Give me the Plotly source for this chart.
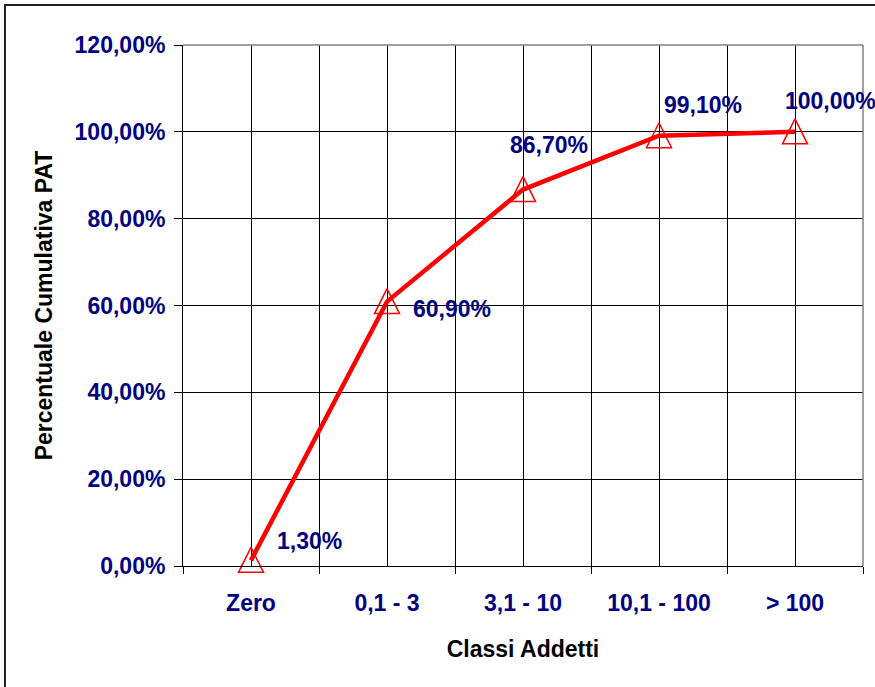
import plotly.graph_objects as go

# ---- data ----
categories = ["Zero", "0,1 - 3", "3,1 - 10", "10,1 - 100", "> 100"]
cumulative_pct = [0.013, 0.609, 0.867, 0.991, 1.000]
y_ticks = [0.0, 0.2, 0.4, 0.6, 0.8, 1.0, 1.2]

# ---- label placement (pixel offsets from each point) ----
label_dx = [24, 24, -15, 3, -12]
label_dy = [19, -7, 45, 31, 31]

NAVY = "#000080"
FONT = "Liberation Sans, Arial, sans-serif"
FS = 23

n = len(categories)
xpos = list(range(n))
labels = [f"{v*100:.2f}%".replace(".", ",") for v in cumulative_pct]

fig = go.Figure()

# markers (drawn below the line)
fig.add_trace(go.Scatter(
    x=xpos, y=cumulative_pct, mode="markers",
    marker=dict(symbol="arrow-down-open", angle=180, standoff=13, size=25,
                color="red", line=dict(color="red", width=1.5)),
    cliponaxis=False, showlegend=False, hoverinfo="skip",
))
# line
fig.add_trace(go.Scatter(
    x=xpos, y=cumulative_pct, mode="lines",
    line=dict(color="red", width=4.5),
    cliponaxis=False, showlegend=False,
))

for i, (v, t) in enumerate(zip(cumulative_pct, labels)):
    fig.add_annotation(
        x=xpos[i], y=v, text=t, showarrow=False,
        xanchor="left", yanchor="middle",
        xshift=label_dx[i], yshift=label_dy[i],
        font=dict(family=FONT, size=FS, color=NAVY, weight="bold"),
    )

fig.update_layout(
    width=875, height=687,
    margin=dict(l=183, r=12, t=45, b=121),
    paper_bgcolor="white", plot_bgcolor="white",
    separators=",.",
    showlegend=False,
    xaxis=dict(
        range=[-0.5, n - 0.5],
        tickmode="array", tickvals=xpos, ticktext=categories,
        ticks="", showgrid=True, gridcolor="black", gridwidth=1,
        showline=True, linecolor="black", linewidth=1,
        zeroline=False,
        minor=dict(tickmode="array", tickvals=[i - 0.5 for i in range(n + 1)],
                   ticks="outside", ticklen=7, tickcolor="black", tickwidth=1,
                   showgrid=True, gridcolor="black", gridwidth=1),
        tickfont=dict(family=FONT, size=FS, color=NAVY, weight="bold"),
        ticklabelstandoff=16,
        title=dict(text="Classi Addetti", standoff=26,
                   font=dict(family=FONT, size=FS, color="black", weight="bold")),
        fixedrange=True,
    ),
    yaxis=dict(
        range=[0, 1.2], tickmode="array", tickvals=y_ticks,
        tickformat=".2%",
        ticks="outside", ticklen=8, tickcolor="black", tickwidth=1,
        showgrid=True, gridcolor="black", gridwidth=1,
        showline=True, linecolor="black", linewidth=1,
        zeroline=False,
        tickfont=dict(family=FONT, size=FS, color=NAVY, weight="bold"),
        ticklabelstandoff=4,
        title=dict(text="Percentuale Cumulativa PAT", standoff=15,
                   font=dict(family=FONT, size=FS, color="black", weight="bold")),
        fixedrange=True,
    ),
    shapes=[
        # gray plot-area border (top and right)
        dict(type="line", xref="paper", yref="paper", x0=0, x1=1, y0=1, y1=1,
             line=dict(color="#808080", width=1.5), layer="above"),
        dict(type="line", xref="paper", yref="paper", x0=1, x1=1, y0=0, y1=1,
             line=dict(color="#808080", width=1.5), layer="above"),
        # outer chart border
        dict(type="rect", xref="paper", yref="paper",
             x0=-0.2618, x1=1.03, y0=-0.25, y1=1.0768,
             line=dict(color="#202020", width=2), layer="below"),
    ],
)

fig.write_html(
    "out.html",
    config={"displayModeBar": False},
    post_script="document.body.style.margin='0';document.body.style.overflow='hidden';",
)
